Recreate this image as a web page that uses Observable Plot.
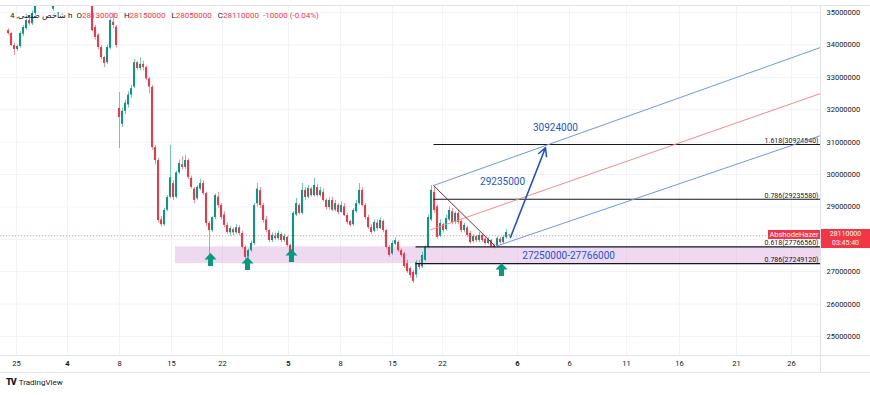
<!DOCTYPE html>
<html><head><meta charset="utf-8">
<script src="https://cdn.jsdelivr.net/npm/d3@7"></script>
<script src="https://cdn.jsdelivr.net/npm/@observablehq/plot@0.6"></script>
<style>
html,body{margin:0;padding:0;background:#fff;}
#wrap{position:relative;width:870px;height:395px;overflow:hidden;font-family:Roboto,"Liberation Sans",sans-serif;}
#chart{position:absolute;left:0;top:0;}
.ln{position:absolute;background:#e0e3eb;}
#legend{position:absolute;left:10px;top:11px;font-size:8px;line-height:10px;color:#131722;white-space:nowrap;}
#legend .v{color:#f23645;margin-right:4px;}
#footer{position:absolute;left:6px;top:377px;font-size:8px;color:#131722;white-space:nowrap;}
#footer b{font-weight:900;font-size:9px;letter-spacing:-1px;margin-right:3px;}
.tag{position:absolute;background:#f23645;color:#fff;text-align:center;white-space:nowrap;}
</style></head><body>
<div id="wrap">
<div id="chart"></div>
<div class="ln" style="left:0;top:5px;width:870px;height:1px"></div>
<div class="ln" style="left:0;top:355px;width:870px;height:1px"></div>
<div class="ln" style="left:0;top:372px;width:870px;height:1px"></div>
<div class="ln" style="left:820px;top:5px;width:1px;height:368px"></div>
<div id="legend">4 ,شاخص صنعتی h&nbsp; O<span class="v">28130000</span> H<span class="v">28150000</span> L<span class="v">28050000</span> C<span class="v">28110000</span><span class="v">-10000 (-0.04%)</span></div>
<div id="footer"><b>TV</b>TradingView</div>
</div>
<script>
// ---- candle data (prices in millions) ----
const opens = [34.44,34.35,33.98,33.86,33.95,34.33,34.50,34.75,34.65,34.97,35.30,35.60,35.90,35.70,35.50,35.10,35.50,35.80,36.10,36.30,36.20,36.40,36.20,36.00,36.20,35.90,35.70,35.80,35.40,34.54,34.30,33.92,33.61,33.45,33.90,34.70,34.55,32.04,31.55,31.95,32.15,32.45,32.70,33.45,33.27,33.40,33.30,32.95,32.69,30.83,30.43,28.60,28.45,28.90,29.30,29.72,29.30,30.05,30.30,30.22,30.43,29.88,29.55,29.25,29.55,29.72,29.41,28.49,28.27,28.67,29.30,29.05,28.75,28.43,28.20,28.30,28.20,28.35,28.18,27.75,27.45,27.65,27.87,29.10,29.50,29.04,28.60,28.27,27.96,28.10,28.02,28.15,27.96,28.06,27.81,27.50,28.75,29.05,28.80,29.51,29.30,29.55,29.35,29.60,29.35,29.45,29.20,28.98,29.20,28.90,29.05,28.83,29.00,28.73,28.55,28.45,28.85,29.10,29.51,29.04,28.67,28.36,28.25,28.50,28.33,28.55,28.27,27.75,27.55,27.85,27.90,27.65,27.55,27.25,27.10,26.98,26.90,27.25,27.15,27.35,27.75,28.60,29.45,29.00,28.10,28.45,28.30,28.60,28.85,28.52,28.80,28.55,28.27,28.35,28.18,27.93,28.08,27.96,28.12,28.00,27.87,27.96,27.80,27.78,28.00,27.90,28.05,28.13];
const highs = [34.50,34.38,34.05,34.00,34.40,34.60,34.80,34.85,35.05,35.50,35.80,36.00,36.00,35.80,35.60,35.60,35.90,36.20,36.50,36.50,36.60,36.50,36.30,36.30,36.30,36.00,35.90,35.90,35.60,34.60,34.35,33.98,33.65,34.00,34.80,34.97,34.60,32.53,32.05,32.30,32.55,32.75,33.55,33.50,33.60,33.50,33.35,33.00,32.75,30.90,30.50,28.70,28.95,29.35,30.90,29.80,30.10,30.45,30.55,30.60,30.48,29.95,29.60,29.65,29.85,29.80,29.45,28.55,28.70,29.40,29.45,29.10,28.85,28.50,28.40,28.35,28.45,28.42,28.25,27.80,27.70,27.95,29.10,29.72,29.60,29.10,28.70,28.30,28.20,28.20,28.25,28.20,28.15,28.10,27.85,28.85,29.26,29.10,29.72,29.60,29.65,29.60,29.88,29.70,29.60,29.55,29.25,29.30,29.30,29.20,29.10,29.15,29.10,28.80,28.60,28.95,29.20,29.72,29.60,29.10,28.75,28.45,28.60,28.60,28.65,28.60,28.30,27.80,27.95,28.05,27.95,27.70,27.60,27.35,27.15,27.05,27.35,27.35,27.60,27.80,28.75,29.66,29.60,29.05,28.60,28.50,28.75,29.00,28.95,28.85,28.90,28.60,28.50,28.40,28.25,28.15,28.12,28.21,28.18,28.05,28.05,28.00,27.85,28.08,28.05,28.12,28.30,28.15];
const lows = [34.30,33.95,33.67,33.80,33.90,34.25,34.45,34.58,34.60,34.90,35.25,35.50,35.60,35.40,35.25,35.04,35.40,35.70,36.00,36.00,36.10,36.00,35.90,35.90,35.80,35.60,35.50,35.35,34.40,34.15,33.85,33.55,33.30,33.40,33.85,34.50,33.90,30.80,31.45,31.85,32.05,32.35,32.65,33.20,33.20,33.20,32.90,32.50,30.75,30.30,28.50,28.38,28.40,28.85,29.25,29.20,29.25,30.00,30.15,30.15,29.85,29.55,29.10,29.20,29.50,29.35,28.40,27.50,28.20,28.60,28.95,28.60,28.35,28.15,28.10,28.10,28.15,28.10,27.70,27.35,27.35,27.60,27.80,29.00,28.95,28.50,28.20,27.90,27.90,27.95,27.95,27.90,27.90,27.75,27.42,27.45,28.70,28.75,28.75,29.20,29.25,29.30,29.30,29.30,29.30,29.15,28.90,28.90,28.85,28.85,28.75,28.80,28.70,28.45,28.38,28.40,28.80,29.05,29.00,28.60,28.30,28.15,28.20,28.25,28.30,28.20,27.70,27.45,27.50,27.80,27.60,27.45,27.10,26.95,26.80,26.64,26.80,27.05,27.10,27.30,27.70,28.55,28.80,28.00,28.05,28.20,28.25,28.55,28.45,28.45,28.45,28.20,28.20,28.05,27.85,27.88,27.90,27.90,27.90,27.82,27.83,27.74,27.70,27.72,27.85,27.85,28.00,28.05];
const closes = [34.35,33.98,33.86,33.95,34.35,34.54,34.75,34.65,34.97,35.30,35.60,35.90,35.70,35.50,35.30,35.50,35.80,36.10,36.30,36.20,36.40,36.20,36.00,36.20,35.90,35.70,35.80,35.40,34.44,34.23,33.92,33.61,33.43,33.92,34.75,34.60,33.98,31.76,31.95,32.20,32.45,32.65,33.45,33.27,33.40,33.30,32.95,32.70,30.83,30.43,28.58,28.45,28.89,29.29,29.90,29.29,30.05,30.34,30.22,30.43,29.91,29.60,29.20,29.60,29.72,29.41,28.49,28.27,28.67,29.35,29.04,28.67,28.43,28.21,28.33,28.20,28.36,28.18,27.75,27.44,27.65,27.87,29.04,29.55,29.04,28.58,28.27,27.96,28.12,28.02,28.18,27.96,28.09,27.81,27.50,28.80,29.10,28.80,29.51,29.29,29.57,29.35,29.66,29.35,29.50,29.20,28.98,29.20,28.90,29.10,28.83,29.04,28.73,28.52,28.43,28.89,29.10,29.51,29.04,28.67,28.36,28.21,28.52,28.33,28.58,28.27,27.75,27.50,27.87,27.96,27.65,27.50,27.16,27.00,26.88,26.70,27.28,27.13,27.50,27.75,28.67,29.51,28.89,28.06,28.49,28.27,28.64,28.89,28.52,28.80,28.52,28.27,28.43,28.12,27.90,28.09,27.96,28.12,27.96,27.87,27.99,27.78,27.75,28.02,27.90,28.06,28.21,28.11];

// ---- axes ----
const yTicks = [25,26,27,28,29,30,31,32,33,34,35];
const timeIdx = [2.67,19.67,37,54.33,71.33,93.33,110.67,128,144.67,169.67,187,206,223.67,242.67,261];
const timeLabels = ["25","4","8","15","22","5","8","15","22","6","6","11","16","21","26"];
const timeBold = [false,true,false,false,false,true,false,false,false,true,false,false,false,false,false];

// ---- drawings (index, price) ----
const fibLevels = [30.92454, 29.23558, 27.76656, 27.24912];
const fibLabels = ["1.618(30924540)","0.786(29235580)","0.618(27766560)","0.786(27249120)"];
const fibStart = [141.67, 141.67, 135.67, 135.67];
const zone = {x1: 55.67, y1: 27.25, y2: 27.766};
const forkX1 = [141.67, 140.67, 162.33, 141.67];
const forkY1 = [29.66, 28.29, 27.78, 29.66];
const forkX2 = [270.67, 270.67, 270.67, 162.33];
const forkY2 = [33.92, 32.50, 31.20, 27.78];
const forkColor = ["#7097e8", "#f08c8c", "#7097e8", "#7a2e2e"];
const arrowFrom = [167.33, 28.06], arrowTo = [179, 30.83];
const tealX = [67.33, 79.67, 94.33, 164.33];
const tealY = [27.38, 27.25, 27.50, 27.07];
const noteText = ["30924000", "29235000", "27250000-27766000"];
const noteX = [182.3, 164.7, 186.7];
const noteY = [31.45, 29.78, 27.50];
const lastPrice = 28.11, countdown = "03:45:40", priceTag = "AbshodeHazer";

const xMin = -2.667, xMax = 270.667, yMin = 24.414, yMax = 35.216;
const UP = "#089981", DOWN = "#f23645";

const candles = opens.map((o, i) => ({i, o, h: highs[i], l: lows[i], c: closes[i], col: closes[i] >= o ? UP : DOWN}));
const fibs = fibLevels.map((v, k) => ({v, label: fibLabels[k], x1: fibStart[k]}));
const forks = forkX1.map((x1, k) => ({x1, y1: forkY1[k], x2: forkX2[k], y2: forkY2[k], color: forkColor[k]}));
const teal = tealX.map((x, k) => ({x, y: tealY[k]}));
const notes = noteText.map((t, k) => ({t, x: noteX[k], y: noteY[k]}));
const times = timeIdx.map((x, k) => ({x, label: timeLabels[k], bold: timeBold[k]}));
// the price tag hides the axis label it sits on, as in TradingView
const axisLabelTicks = yTicks.filter(v => Math.abs(v - lastPrice) > 0.4);

const upArrow = {draw(ctx) {
  ctx.moveTo(0, -6.5); ctx.lineTo(6, 0); ctx.lineTo(2.5, 0); ctx.lineTo(2.5, 6.5);
  ctx.lineTo(-2.5, 6.5); ctx.lineTo(-2.5, 0); ctx.lineTo(-6, 0); ctx.closePath();
}};

const chart = Plot.plot({
  width: 870, height: 373,
  marginLeft: 0, marginRight: 50, marginTop: 5, marginBottom: 18,
  x: {domain: [xMin, xMax], axis: null},
  y: {domain: [yMin, yMax], axis: null},
  color: {type: "identity"},
  style: {fontFamily: "Roboto, 'Liberation Sans', sans-serif", background: "white", overflow: "visible"},
  marks: [
    Plot.gridY(yTicks, {stroke: "#f0f3fa", strokeOpacity: 1}),
    Plot.gridX(timeIdx, {stroke: "#f0f3fa", strokeOpacity: 1}),
    Plot.rect([zone], {x1: "x1", x2: () => xMax, y1: "y1", y2: "y2", fill: "#ce93d8", fillOpacity: 0.35}),
    Plot.ruleY([lastPrice], {stroke: "#f23645", strokeOpacity: 0.55, strokeDasharray: "1,2"}),
    Plot.ruleX(candles, {x: "i", y1: "l", y2: "h", stroke: "col", strokeOpacity: 0.55, clip: true}),
    Plot.rect(candles, {x1: d => d.i - 0.34, x2: d => d.i + 0.34, y1: d => Math.min(d.o, d.c), y2: d => Math.max(d.o, d.c), fill: "col", clip: true}),
    Plot.link(fibs, {x1: "x1", x2: () => xMax, y1: "v", y2: "v", stroke: "#131722", strokeWidth: 1.1}),
    Plot.text(fibs, {x: () => xMax, y: "v", text: "label", textAnchor: "end", dx: -2, dy: -3.8, fontSize: 7, fill: "#131722"}),
    Plot.link(forks, {x1: "x1", y1: "y1", x2: "x2", y2: "y2", stroke: "color", strokeWidth: 1, clip: true}),
    Plot.arrow([0], {x1: () => arrowFrom[0], y1: () => arrowFrom[1], x2: () => arrowTo[0], y2: () => arrowTo[1], stroke: "#1f4fd1", strokeWidth: 1.5, headLength: 9, headAngle: 55}),
    Plot.dot(teal, {x: "x", y: "y", symbol: upArrow, fill: "#089981", stroke: "none", r: 6}),
    Plot.text(notes, {x: "x", y: "y", text: "t", fill: "#2454d6", fontSize: 10}),
    Plot.axisY({ticks: axisLabelTicks, anchor: "right", tickSize: 0, tickPadding: 6, fontSize: 7.5, color: "#131722", tickFormat: d => String(Math.round(d * 1e6)), label: null}),
    Plot.text(times.filter(d => !d.bold), {x: "x", frameAnchor: "bottom", dy: 10, text: "label", fontSize: 7.5, fill: "#131722"}),
    Plot.text(times.filter(d => d.bold), {x: "x", frameAnchor: "bottom", dy: 10, text: "label", fontSize: 7.5, fontWeight: "bold", fill: "#131722"})
  ]
});
document.getElementById("chart").appendChild(chart);

// price tags placed through the chart's own scales
const ys = chart.scale("y"), xs = chart.scale("x");
const py = ys.apply(lastPrice), px = xs.apply(xMax);
const wrap = document.getElementById("wrap");
const tag1 = document.createElement("div");
tag1.className = "tag";
Object.assign(tag1.style, {left: (px - 52) + "px", top: (py - 5.5) + "px", width: "52px", height: "9.5px", fontSize: "7.5px", lineHeight: "9.5px"});
tag1.textContent = priceTag;
wrap.appendChild(tag1);
const tag2 = document.createElement("div");
tag2.className = "tag";
Object.assign(tag2.style, {left: (px + 1) + "px", top: (py - 6) + "px", width: "49px", height: "19px", fontSize: "7px", lineHeight: "8.5px", paddingTop: "1px", boxSizing: "border-box"});
tag2.innerHTML = String(Math.round(lastPrice * 1e6)) + "<br>" + countdown;
wrap.appendChild(tag2);
</script>
</body></html>
